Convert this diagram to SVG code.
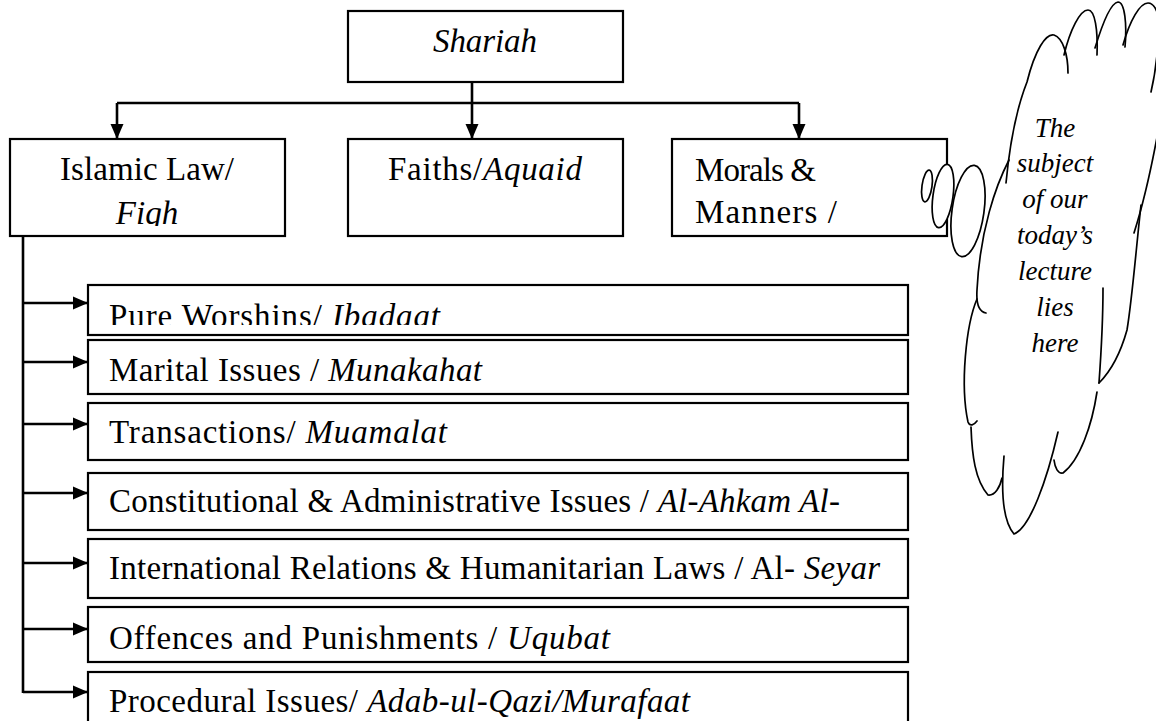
<svg xmlns="http://www.w3.org/2000/svg" width="1156" height="721" viewBox="0 0 1156 721">
<style>
.bg{fill:#fff}
.box{fill:#fff;stroke:#000;stroke-width:2.2}
.t{font-family:"Liberation Serif","Times New Roman",serif;font-size:33px;fill:#000}
.i{font-style:italic}
.ct{font-family:"Liberation Serif","Times New Roman",serif;font-size:27px;font-style:italic;fill:#000;text-anchor:middle}
.conn{stroke:#000;stroke-width:2.6;fill:none}
.cloud{stroke:#000;stroke-width:1.7;fill:none;stroke-linecap:round}
.bub{stroke:#000;stroke-width:1.7;fill:#fff}
</style>
<defs>
<marker id="ah" markerUnits="userSpaceOnUse" markerWidth="16" markerHeight="14" refX="15" refY="7" orient="auto">
<path d="M0,0.5 L15,7 L0,13.5 z" fill="#000"/>
</marker>
<clipPath id="clipIsl"><rect x="10" y="139" width="275" height="87"/></clipPath>
<clipPath id="clipR1"><rect x="88" y="285" width="820" height="40"/></clipPath>
</defs>
<rect class="bg" x="0" y="0" width="1156" height="721"/>

<g id="connectors">
<path class="conn" d="M472,82 V139" marker-end="url(#ah)"/>
<path class="conn" d="M117,103 H799"/>
<path class="conn" d="M117,103 V139" marker-end="url(#ah)"/>
<path class="conn" d="M799,103 V139" marker-end="url(#ah)"/>
<path class="conn" d="M23,236 V693"/>
<path class="conn" d="M23,303 H88" marker-end="url(#ah)"/>
<path class="conn" d="M23,362 H88" marker-end="url(#ah)"/>
<path class="conn" d="M23,424 H88" marker-end="url(#ah)"/>
<path class="conn" d="M23,493 H88" marker-end="url(#ah)"/>
<path class="conn" d="M23,563 H88" marker-end="url(#ah)"/>
<path class="conn" d="M23,629 H88" marker-end="url(#ah)"/>
<path class="conn" d="M23,692 H88" marker-end="url(#ah)"/>
</g>

<g id="shariah">
<rect class="box" x="348" y="11" width="275" height="71"/>
<text class="t i" x="433" y="52" textLength="104">Shariah</text>
</g>

<g id="islamic-law">
<rect class="box" x="10" y="139" width="275" height="97"/>
<g clip-path="url(#clipIsl)">
<text class="t" x="147" y="180" text-anchor="middle" textLength="174">Islamic Law/</text>
<text class="t i" x="147" y="224" text-anchor="middle">Fiqh</text>
</g>
</g>

<g id="faiths">
<rect class="box" x="348" y="139" width="275" height="97"/>
<text class="t" x="388" y="180" textLength="194">Faiths/<tspan class="i">Aquaid</tspan></text>
</g>

<g id="morals">
<rect class="box" x="672" y="139" width="275" height="97"/>
<text class="t" x="695" y="181" textLength="121">Morals &amp;</text>
<text class="t" x="695" y="223" textLength="142">Manners /</text>
</g>

<g id="pure-worships">
<rect class="box" x="88" y="285" width="820" height="50"/>
<g clip-path="url(#clipR1)">
<text class="t" x="109" y="327" textLength="331">Pure Worshins/ <tspan class="i">Ibadaat</tspan></text>
</g>
</g>

<g id="marital">
<rect class="box" x="88" y="340" width="820" height="54"/>
<text class="t" x="109" y="381" textLength="373">Marital Issues / <tspan class="i">Munakahat</tspan></text>
</g>

<g id="transactions">
<rect class="box" x="88" y="403" width="820" height="57"/>
<text class="t" x="109" y="443" textLength="338">Transactions/ <tspan class="i">Muamalat</tspan></text>
</g>

<g id="constitutional">
<rect class="box" x="88" y="473" width="820" height="57"/>
<text class="t" x="109" y="512" textLength="731">Constitutional &amp; Administrative Issues / <tspan class="i">Al-Ahkam Al-</tspan></text>
</g>

<g id="international">
<rect class="box" x="88" y="539" width="820" height="59"/>
<text class="t" x="109" y="579" textLength="771">International Relations &amp; Humanitarian Laws / Al- <tspan class="i">Seyar</tspan></text>
</g>

<g id="offences">
<rect class="box" x="88" y="607" width="820" height="55"/>
<text class="t" x="109" y="649" textLength="501">Offences and Punishments / <tspan class="i">Uqubat</tspan></text>
</g>

<g id="procedural">
<rect class="box" x="88" y="672" width="820" height="60"/>
<text class="t" x="109" y="712" textLength="581">Procedural Issues/ <tspan class="i">Adab-ul-Qazi/Murafaat</tspan></text>
</g>

<g id="thought-cloud">
<ellipse class="bub" cx="927" cy="186" rx="5" ry="16" transform="rotate(8 927 186)"/>
<ellipse class="bub" cx="943" cy="196" rx="10" ry="32" transform="rotate(8 943 196)"/>
<ellipse class="bub" cx="968" cy="211" rx="16" ry="46" transform="rotate(8 968 211)"/>
<path class="cloud" d="M1006,183 Q1012,120 1027,82 C1035,50 1046,33 1054,35 C1063,38 1068,55 1068,73"/>
<path class="cloud" d="M1064,55 C1070,30 1080,10 1088,10 C1095,10 1098,30 1097,55"/>
<path class="cloud" d="M1095,48 C1102,25 1110,3 1118,2 C1125,2 1127,25 1125,47"/>
<path class="cloud" d="M1123,45 C1130,20 1140,3 1148,3 C1153,3 1156,8 1158,15"/>
<path class="cloud" d="M1157,55 Q1155,75 1151,92"/>
<path class="cloud" d="M1158,132 C1151,170 1143,205 1134,233"/>
<path class="cloud" d="M1141,205 C1136,250 1132,300 1127,330 C1120,355 1110,372 1099,383"/>
<path class="cloud" d="M1103,288 C1103,320 1101,355 1099,383"/>
<path class="cloud" d="M1097,392 C1092,425 1080,460 1063,473 C1058,474 1055,468 1054,460"/>
<path class="cloud" d="M1004,456 C1001,490 1002,520 1014,534 C1030,528 1047,480 1058,432"/>
<path class="cloud" d="M971,427 C972,455 975,480 988,495 C995,496 1000,487 1002,478"/>
<path class="cloud" d="M977,299 C966,325 960,385 968,422 C970,427 974,425 977,421"/>
<path class="cloud" d="M1009,160 C996,185 980,230 977,290 C976,305 980,312 986,313"/>
<text class="ct" x="1055" y="137">The</text>
<text class="ct" x="1055" y="172">subject</text>
<text class="ct" x="1055" y="208">of our</text>
<text class="ct" x="1055" y="244">today’s</text>
<text class="ct" x="1055" y="280">lecture</text>
<text class="ct" x="1055" y="316">lies</text>
<text class="ct" x="1055" y="352">here</text>
</g>
</svg>
